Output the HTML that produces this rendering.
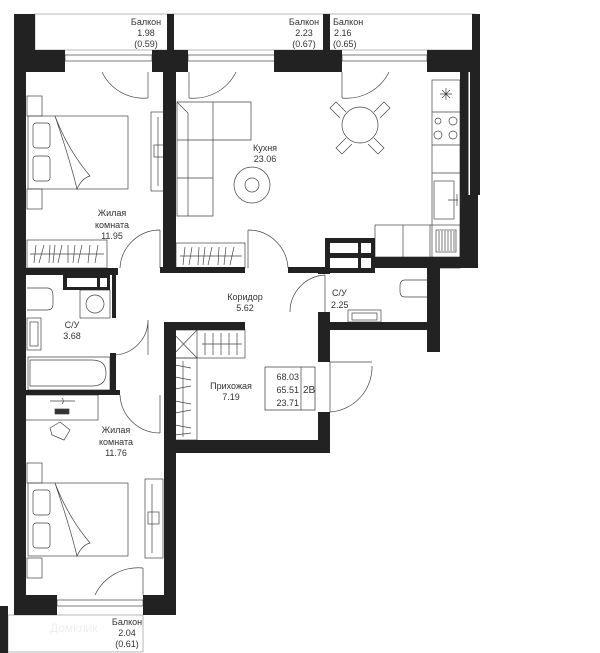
<!DOCTYPE html>
<html><head><meta charset="utf-8"><style>
html,body{margin:0;padding:0;background:#fff;}
svg{display:block;}
text{font-family:"Liberation Sans",sans-serif;font-size:9px;fill:#333;}
</style></head><body>
<svg width="600" height="653" viewBox="0 0 600 653" xmlns="http://www.w3.org/2000/svg">
<g fill="none" stroke="#444" stroke-width="0.7">
<rect x="35" y="14" width="440" height="36" stroke="#999"/>
<rect x="8" y="615" width="135" height="37" stroke="#999"/>
<rect x="65" y="55" width="87" height="6"/><rect x="188" y="55" width="87" height="6"/><rect x="342" y="55" width="85" height="6"/>
<rect x="57" y="600" width="86" height="6"/>
<path d="M148 72 V98 M148 98 A46 46 0 0 1 102 72"/>
<path d="M189 72 V98 M189 98 A47 47 0 0 0 236 72"/>
<path d="M342 72 V98 M342 98 A47 47 0 0 0 389 72"/>
<path d="M143 568 V595 M143 568 A48 48 0 0 0 95 595"/>
<path d="M160 230 V268 M160 230 A40 40 0 0 0 120 268"/>
<path d="M248 230 V268 M248 230 A40 40 0 0 1 288 268"/>
<path d="M325 275 V312 M325 275 A37 37 0 0 0 290 312"/>
<path d="M148 320 V355 M148 320 A35 35 0 0 1 113 355"/>
<path d="M160 395 V433 M160 433 A40 40 0 0 1 120 395"/>
<path d="M330 362 V412 M330 362 H372 M372 366 A45 45 0 0 1 330 412"/>
<rect x="27" y="96" width="15" height="20"/><rect x="27" y="189" width="15" height="20"/>
<rect x="28" y="116" width="100" height="73"/>
<rect x="33" y="123" width="17" height="25" rx="3"/><rect x="33" y="156" width="17" height="25" rx="3"/>
<path d="M55 116 Q70 160 77 189 Q82 178 90 176 Q68 150 55 116"/>
<rect x="151" y="112" width="18" height="79"/><line x1="158" y1="117" x2="158" y2="186"/><rect x="154" y="145" width="11" height="12"/>
<rect x="27" y="240" width="80" height="28"/><line x1="30" y1="254" x2="104" y2="254"/>
<path d="M36 245 l-2 18 M44 245 l-5 18 M50 245 l-1 18 M55 245 l-2 18 M62 245 l-4 18 M68 245 l0 18 M75 245 l-2 18 M82 245 l-4 18 M90 245 l-2 18 M98 245 l-3 18"/>
<path d="M177 102 H251 V140 H213 V216 H177 Z M213 102 V140 M177 140 H213 M177 178 H213 M177 102 L188 113 V216"/>
<circle cx="252" cy="185" r="18"/><circle cx="252" cy="185" r="7"/>
<rect x="176" y="243" width="69" height="25"/><line x1="180" y1="256" x2="242" y2="256"/>
<path d="M185 247 l-2 18 M192 247 l-3 18 M199 247 l-1 18 M205 247 l-2 18 M212 247 l-4 18 M219 247 l-1 18 M226 247 l-2 18 M234 247 l-4 18"/>
<circle cx="360" cy="125" r="18"/>
<path d="M346 112 l-10 -10 l-6 6 l10 10 M374 112 l10 -10 l6 6 l-10 10 M346 138 l-10 10 l6 6 l10 -10 M374 138 l10 10 l-6 6 l-10 -10"/>
<rect x="432" y="80" width="28" height="188"/><line x1="432" y1="112" x2="460" y2="112"/><line x1="432" y1="145" x2="460" y2="145"/><line x1="432" y1="173" x2="460" y2="173"/>
<circle cx="438" cy="121" r="3"/><circle cx="453" cy="121" r="4"/><circle cx="438" cy="135" r="4"/><circle cx="453" cy="135" r="4"/>
<path d="M446 88 v12 M440 94 h12 M442 90 l8 8 M450 90 l-8 8"/>
<rect x="434" y="181" width="20" height="38"/><path d="M448 200 h10 M457 194 v12"/>
<rect x="375" y="225" width="85" height="32"/><line x1="403" y1="225" x2="403" y2="257"/><line x1="430" y1="225" x2="430" y2="257"/>
<rect x="436" y="230" width="20" height="22"/>
<path d="M439 231 v20 M442 231 v20 M445 231 v20 M448 231 v20 M451 231 v20 M454 231 v20"/>
<path d="M427 280 H405 Q400 280 400 286 V291 Q400 297 405 297 H427"/>
<rect x="348" y="310" width="33" height="12"/><rect x="352" y="313" width="25" height="7"/>
<path d="M27 288 H47 Q53 288 53 296 V304 Q53 310 47 310 H27"/>
<rect x="27" y="318" width="14" height="32"/><rect x="30" y="322" width="8" height="24"/>
<rect x="80" y="290" width="30" height="28"/><circle cx="95" cy="304" r="9"/>
<path d="M28 357 H110 V390 H28 Z M30 360 H92 Q106 360 106 373 Q106 386 92 386 H30 Z"/>
<rect x="170" y="330" width="75" height="28"/><line x1="197" y1="330" x2="197" y2="358"/><path d="M170 330 L197 358 M197 330 L170 358"/>
<path d="M205 333 v22 M213 333 v22 M221 333 v22 M229 333 v22 M237 333 v22 M202 344 h40"/>
<rect x="170" y="358" width="27" height="82"/><line x1="183" y1="361" x2="183" y2="437"/>
<path d="M175 365 l16 3 M175 377 l16 3 M175 389 l16 -3 M175 401 l16 3 M175 413 l16 -3 M175 425 l16 3 M175 435 l16 -2"/>
<rect x="265" y="367" width="50" height="43" stroke="#333"/><line x1="301" y1="367" x2="301" y2="410"/>
<rect x="25" y="395" width="73" height="25"/>
<path d="M50 401 H75 M62 398 a4 4 0 0 1 0 6"/><rect x="55" y="409" width="14" height="5" fill="#333"/>
<path d="M60 422 l10 8 l-6 10 l-12 -5 l-2 -7 Z"/>
<rect x="27" y="463" width="15" height="20"/><rect x="27" y="558" width="15" height="20"/>
<rect x="28" y="483" width="100" height="73"/>
<rect x="33" y="490" width="17" height="25" rx="3"/><rect x="33" y="523" width="17" height="25" rx="3"/>
<path d="M55 483 Q70 527 77 556 Q82 545 90 543 Q68 517 55 483"/>
<rect x="145" y="479" width="18" height="79"/><line x1="152" y1="484" x2="152" y2="553"/><rect x="148" y="512" width="11" height="12"/>
</g>
<g fill="#222">
<rect x="14" y="14" width="21" height="58"/>
<rect x="14" y="50" width="51" height="22"/>
<rect x="14" y="14" width="12" height="601"/>
<rect x="167" y="14" width="7" height="36"/>
<rect x="152" y="50" width="36" height="22"/>
<rect x="163" y="50" width="13" height="220"/>
<rect x="323" y="14" width="7" height="36"/>
<rect x="274" y="50" width="68" height="22"/>
<rect x="427" y="50" width="53" height="22"/>
<rect x="472" y="14" width="8" height="181"/>
<rect x="460" y="50" width="12" height="218"/>
<rect x="460" y="195" width="18" height="73"/>
<rect x="14" y="268" width="104" height="7"/>
<rect x="160" y="267" width="85" height="6"/>
<rect x="288" y="267" width="37" height="6"/>
<rect x="325" y="238" width="50" height="35"/>
<rect x="375" y="257" width="103" height="11"/>
<rect x="427" y="257" width="13" height="95"/>
<rect x="318" y="268" width="12" height="6"/>
<rect x="318" y="312" width="12" height="50"/>
<rect x="318" y="322" width="120" height="8"/>
<rect x="318" y="412" width="12" height="41"/>
<rect x="164" y="322" width="81" height="8"/>
<rect x="164" y="322" width="12" height="293"/>
<rect x="164" y="440" width="166" height="13"/>
<rect x="112" y="275" width="4" height="43"/>
<rect x="110" y="353" width="6" height="42"/>
<rect x="25" y="390" width="95" height="5"/>
<rect x="63" y="275" width="47" height="15"/>
<rect x="14" y="595" width="43" height="20"/>
<rect x="143" y="595" width="33" height="20"/>
<rect x="0" y="606" width="8" height="47"/>
</g>
<g fill="#fff">
<rect x="67" y="278" width="30" height="9"/><rect x="100" y="278" width="7" height="9"/>
<rect x="330" y="243" width="28" height="10"/><rect x="361" y="243" width="10" height="10"/>
<rect x="330" y="258" width="28" height="10"/><rect x="361" y="258" width="10" height="10"/>
<rect x="468.5" y="72" width="1.5" height="123"/>
</g>
<g text-anchor="middle">
<text x="146" y="25">Балкон</text><text x="146" y="36">1.98</text><text x="146" y="47">(0.59)</text>
<text x="304" y="25">Балкон</text><text x="304" y="36">2.23</text><text x="304" y="47">(0.67)</text>
<text x="265" y="151">Кухня</text><text x="265" y="162">23.06</text>
<text x="112" y="216">Жилая</text><text x="112" y="228">комната</text><text x="112" y="239">11.95</text>
<text x="245" y="300">Коридор</text><text x="245" y="311">5.62</text>
<text x="72" y="328">С/У</text><text x="72" y="339">3.68</text>
<text x="231" y="389">Прихожая</text><text x="231" y="400">7.19</text>
<text x="116" y="433">Жилая</text><text x="116" y="445">комната</text><text x="116" y="456">11.76</text>
<text x="127" y="625">Балкон</text><text x="127" y="636">2.04</text><text x="127" y="647">(0.61)</text>
</g>
<text x="333" y="25">Балкон</text><text x="334" y="36">2.16</text><text x="333" y="47">(0.65)</text>
<text x="332" y="296">С/У</text><text x="331" y="308">2.25</text>
<g text-anchor="end" style="font-size:10px">
<text x="299" y="380">68.03</text><text x="299" y="393">65.51</text><text x="299" y="406">23.71</text>
</g>
<text x="303" y="393" style="font-size:10px">2В</text>
<text x="50" y="632" style="font-size:12px;fill:#eee">Домклик</text>
</svg>
</body></html>
